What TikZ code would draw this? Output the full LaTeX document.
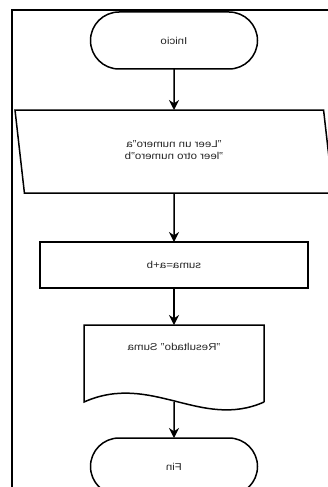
\documentclass[tikz,border=0pt]{standalone}
\usepackage{fontspec}
\setmainfont{Liberation Sans}
\usepackage{graphicx}
\usetikzlibrary{arrows.meta, positioning, shapes.geometric, shapes.misc}
\tikzset{
  >={Stealth[length=10pt, width=10pt]},
  shp/.style={draw=black, line width=1.5pt, font=\fontsize{10}{12}\selectfont, text=black!85,
              inner sep=2pt, outer sep=0pt},
  term/.style={shp, rounded rectangle, minimum width=171pt, minimum height=57pt},
  inout/.style={shp, trapezium, trapezium left angle=108.6, trapezium right angle=71.4,
                trapezium stretches body, minimum width=318pt, minimum height=83pt},
  proc/.style={shp, rectangle, minimum width=268pt, minimum height=46pt},
  docu/.style={shp, draw=none, rectangle, minimum width=180pt, minimum height=77pt,
               text height=7pt, text depth=33pt},
  flow/.style={->, line width=1.5pt},
  frame/.style={line width=1.8pt},
}
% mirrored, slightly wide text as in the picture
\newcommand{\mirr}[1]{\scalebox{-1.15}[1]{#1}}

\begin{document}
\begin{tikzpicture}[x=1pt, y=-1pt]
  \useasboundingbox (0,0) rectangle (328,487);
  \draw[frame] (12,487) -- (12,10) -- (328,10);

  % steps
  \node[term] (ini) at (174,40.5) {\mirr{Inicio}};
  \node[inout, below=41pt of ini] (leer)
    {\mirr{\begin{tabular}{@{}c@{}}"Leer un numero"a\\"leer otro numero"b\end{tabular}}};
  \node[proc, below=49pt of leer] (suma) {\mirr{suma=a+b}};
  \node[docu, below=37pt of suma] (res) {\mirr{"Resultado" Suma}};
  \draw[shp] (res.south east) -- (res.north east) -- (res.north west) -- (res.south west)
    .. controls +(67,-30) and +(-63,28) .. (res.south east);
  \node[term, below=36pt of res] (fin) {\mirr{Fin}};

  % arrows
  \draw[flow] (ini) -- (leer);
  \draw[flow] (leer) -- (suma);
  \draw[flow] (suma) -- (res);
  \draw[flow] (res.south) -- (fin);
\end{tikzpicture}
\end{document}
